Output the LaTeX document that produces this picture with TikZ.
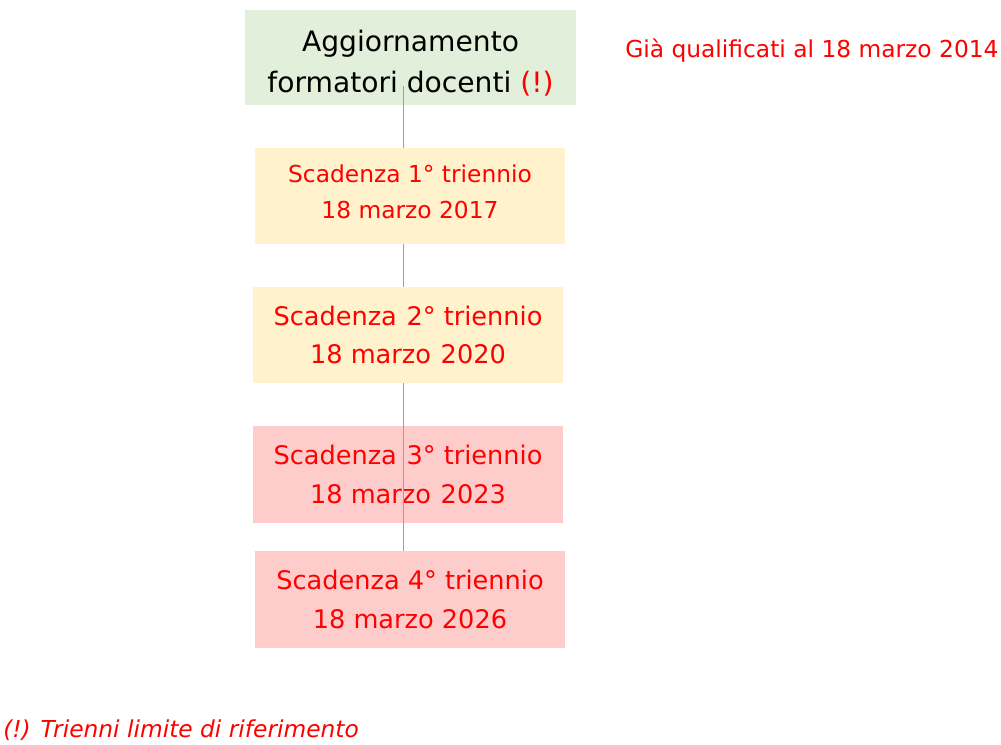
\documentclass[tikz,border=0pt]{standalone}
\usepackage{fontspec}
\setmainfont{DejaVu Sans}
\definecolor{gfill}{HTML}{E2EFDA}
\definecolor{yfill}{HTML}{FFF2CC}
\definecolor{pfill}{HTML}{FFCCCC}
\definecolor{tred}{HTML}{FF0000}
\definecolor{lgray}{HTML}{A0A0A0}
\tikzset{
  box/.style={inner sep=0pt, align=center, minimum width=310*0.75pt, minimum height=96*0.75pt},
  ybox/.style={box, fill=yfill, text=tred},
  pbox/.style={box, fill=pfill, text=tred},
  btext/.style={inner sep=0pt, align=center, text=tred},
  conn/.style={draw=lgray, line width=0.6pt},
}
\begin{document}
\begin{tikzpicture}[x=0.75pt, y=-0.75pt]
\useasboundingbox (0,0) rectangle (1001,744);
\node[box, fill=gfill, minimum width=331*0.75pt, minimum height=95*0.75pt] (g) at (410.5,57.5) {};
\node[inner sep=0pt, align=center, font=\fontsize{21.1}{30.5}\selectfont] (gt) at (410.5,63)
  {Aggiornamento\\formatori docenti \textcolor{tred}{(!)}};
\node[pbox, font=\fontsize{19.2}{28.8}\selectfont, minimum height=97*0.75pt] (b3) at (408,474.5)
  {Scadenza\hspace{0.06em} 3° triennio\\18 marzo\hspace{0.06em} 2023};
\coordinate (ltop) at (403,86);
\coordinate (lbot) at (403,551);
\draw[conn] (ltop) -- (lbot);
\node[ybox] (b1) at (410,196) {};
\node[btext, font=\fontsize{17.5}{27}\selectfont] (b1t) at (410,192)
  {Scadenza 1° triennio\\18 marzo 2017};
\node[ybox, font=\fontsize{19.2}{28.8}\selectfont] (b2) at (408,335)
  {Scadenza\hspace{0.06em} 2° triennio\\18 marzo\hspace{0.06em} 2020};
\node[pbox, font=\fontsize{19.2}{28.8}\selectfont, minimum height=97*0.75pt] (b4) at (410,599.5)
  {Scadenza 4° triennio\\18 marzo 2026};
\node[text=tred, font=\fontsize{17.5}{22}\selectfont, anchor=west, inner sep=0pt] (note) at (625,51)
  {Già qualificati al 18 marzo 2014};
\node[text=tred, font=\fontsize{17.5}{22}\selectfont\itshape, anchor=west, inner sep=0pt] (foot) at (3,730)
  {(!) Trienni limite di riferimento};
\end{tikzpicture}
\end{document}
